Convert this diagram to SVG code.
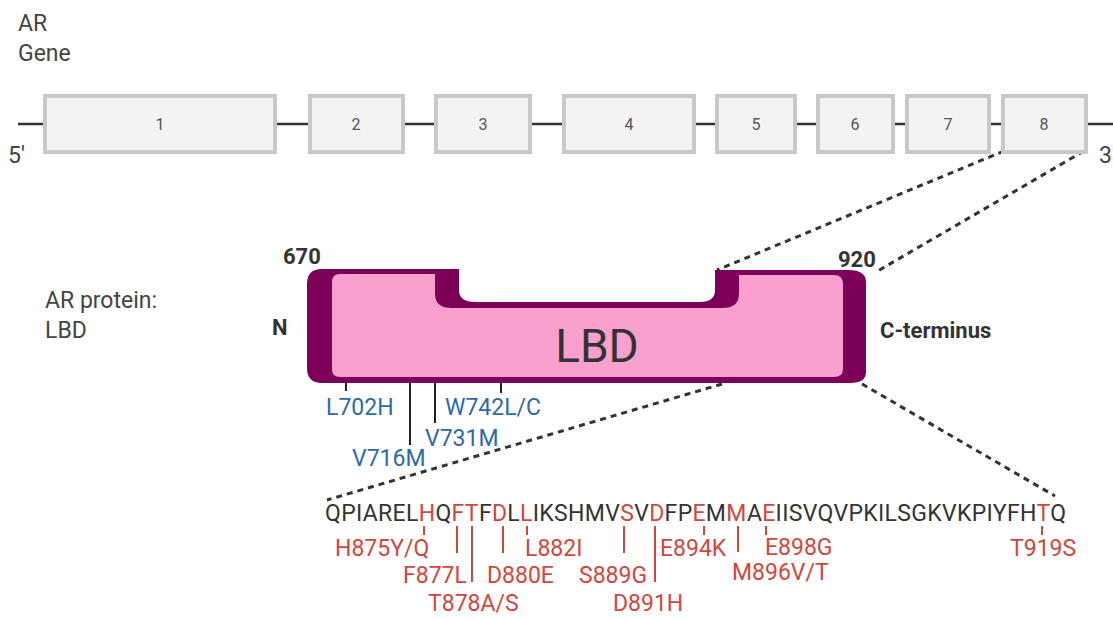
<svg xmlns="http://www.w3.org/2000/svg" width="1113" height="619" viewBox="0 0 1113 619">
<style>
text{font-family:Roboto,"Liberation Sans",sans-serif}
.lab{font-size:23px;fill:#444}
.exon rect{fill:#f3f3f3;stroke:#c8c8c8;stroke-width:4}
.exon text{font-size:16px;fill:#555;text-anchor:middle}
.bold{font-size:22px;font-weight:bold;fill:#333}
.blue{font-size:23px;fill:#2f6aa6}
.red{font-size:23px;fill:#d4453d}
.tick{stroke:#222;stroke-width:2}
.rtick{stroke:#d4453d;stroke-width:2}
.dash{stroke:#333;stroke-width:3;stroke-dasharray:6 5;fill:none}
</style>
<rect width="1113" height="619" fill="#fff"/>
<text class="lab" x="18" y="31">AR</text>
<text class="lab" x="18" y="61">Gene</text>
<text class="lab" x="45" y="308">AR protein:</text>
<text class="lab" x="45" y="338">LBD</text>
<g id="connectors">
<line x1="18" y1="124" x2="1113" y2="124" stroke="#333" stroke-width="2.5"/>
<line class="dash" x1="1004" y1="151" x2="717" y2="270"/>
<line class="dash" x1="1084" y1="151" x2="876" y2="272"/>
<line class="dash" x1="722" y1="384" x2="327" y2="500"/>
<line class="dash" x1="862" y1="384" x2="1055" y2="496"/>
</g>
<text class="lab" x="8" y="163">5'</text>
<text class="lab" x="1099" y="163">3'</text>
<g id="exon1" class="exon"><rect x="45" y="96" width="230" height="56"/><text x="160" y="130">1</text></g>
<g id="exon2" class="exon"><rect x="310" y="96" width="93" height="56"/><text x="356" y="130">2</text></g>
<g id="exon3" class="exon"><rect x="436" y="96" width="94" height="56"/><text x="483" y="130">3</text></g>
<g id="exon4" class="exon"><rect x="564" y="96" width="130" height="56"/><text x="629" y="130">4</text></g>
<g id="exon5" class="exon"><rect x="717" y="96" width="78" height="56"/><text x="756" y="130">5</text></g>
<g id="exon6" class="exon"><rect x="818" y="96" width="75" height="56"/><text x="855" y="130">6</text></g>
<g id="exon7" class="exon"><rect x="907" y="96" width="82" height="56"/><text x="948" y="130">7</text></g>
<g id="exon8" class="exon"><rect x="1003" y="96" width="83" height="56"/><text x="1044" y="130">8</text></g>
<g id="lbd">
<path d="M322,269 L459,269 L459,290 Q459,302 475,302 L700,302 Q715,302 715,290 L715,270 L848,270 Q866,270 866,282 L866,372 Q866,383 850,383 L322,383 Q307,383 307,368 L307,284 Q307,269 322,269 Z" fill="#7d0059"/>
<path d="M340,274 L435,274 L435,294 Q435,308 452,308 L722,308 Q739,308 739,294 L739,275 L834,275 Q843,275 843,284 L843,369 Q843,377 834,377 L340,377 Q332,377 332,369 L332,282 Q332,274 340,274 Z" fill="#f9a0cf"/>
<text x="597" y="362" font-size="46" fill="#333" text-anchor="middle">LBD</text>
</g>
<text class="bold" x="283" y="264">670</text>
<text class="bold" x="838" y="267">920</text>
<text class="bold" x="272" y="335">N</text>
<text class="bold" x="880" y="338">C-terminus</text>
<g id="lbd-mutations">
<line class="tick" x1="346" y1="383" x2="346" y2="391"/>
<line class="tick" x1="410" y1="383" x2="410" y2="445"/>
<line class="tick" x1="435" y1="383" x2="435" y2="423"/>
<line class="tick" x1="501" y1="383" x2="501" y2="393"/>
<text class="blue" x="326" y="415">L702H</text>
<text class="blue" x="445" y="415">W742L/C</text>
<text class="blue" x="425" y="446">V731M</text>
<text class="blue" x="352" y="466">V716M</text>
</g>
<g id="sequence">
<text x="325" y="521" font-size="23" fill="#333" textLength="741" lengthAdjust="spacing">QPIAREL<tspan fill="#d4453d">H</tspan>Q<tspan fill="#d4453d">FT</tspan>F<tspan fill="#d4453d">D</tspan>L<tspan fill="#d4453d">L</tspan>IKSHMV<tspan fill="#d4453d">S</tspan>V<tspan fill="#d4453d">D</tspan>FP<tspan fill="#d4453d">E</tspan>M<tspan fill="#d4453d">M</tspan>A<tspan fill="#d4453d">E</tspan>IISVQVPKILSGKVKPIYFH<tspan fill="#d4453d">T</tspan>Q</text>
<line class="rtick" x1="424" y1="526" x2="424" y2="535"/>
<line class="rtick" x1="457" y1="526" x2="457" y2="553"/>
<line class="rtick" x1="472" y1="526" x2="472" y2="582"/>
<line class="rtick" x1="503" y1="526" x2="503" y2="553"/>
<line class="rtick" x1="527" y1="526" x2="527" y2="535"/>
<line class="rtick" x1="624" y1="526" x2="624" y2="553"/>
<line class="rtick" x1="655" y1="526" x2="655" y2="582"/>
<line class="rtick" x1="704" y1="526" x2="704" y2="535"/>
<line class="rtick" x1="738" y1="526" x2="738" y2="552"/>
<line class="rtick" x1="766" y1="526" x2="766" y2="535"/>
<line class="rtick" x1="1042" y1="526" x2="1042" y2="535"/>
<text class="red" x="335" y="556">H875Y/Q</text>
<text class="red" x="403" y="583">F877L</text>
<text class="red" x="428" y="611">T878A/S</text>
<text class="red" x="487" y="583">D880E</text>
<text class="red" x="525" y="556">L882I</text>
<text class="red" x="579" y="583">S889G</text>
<text class="red" x="613" y="611">D891H</text>
<text class="red" x="660" y="556">E894K</text>
<text class="red" x="732" y="580">M896V/T</text>
<text class="red" x="765" y="555">E898G</text>
<text class="red" x="1010" y="556">T919S</text>
</g>
</svg>
